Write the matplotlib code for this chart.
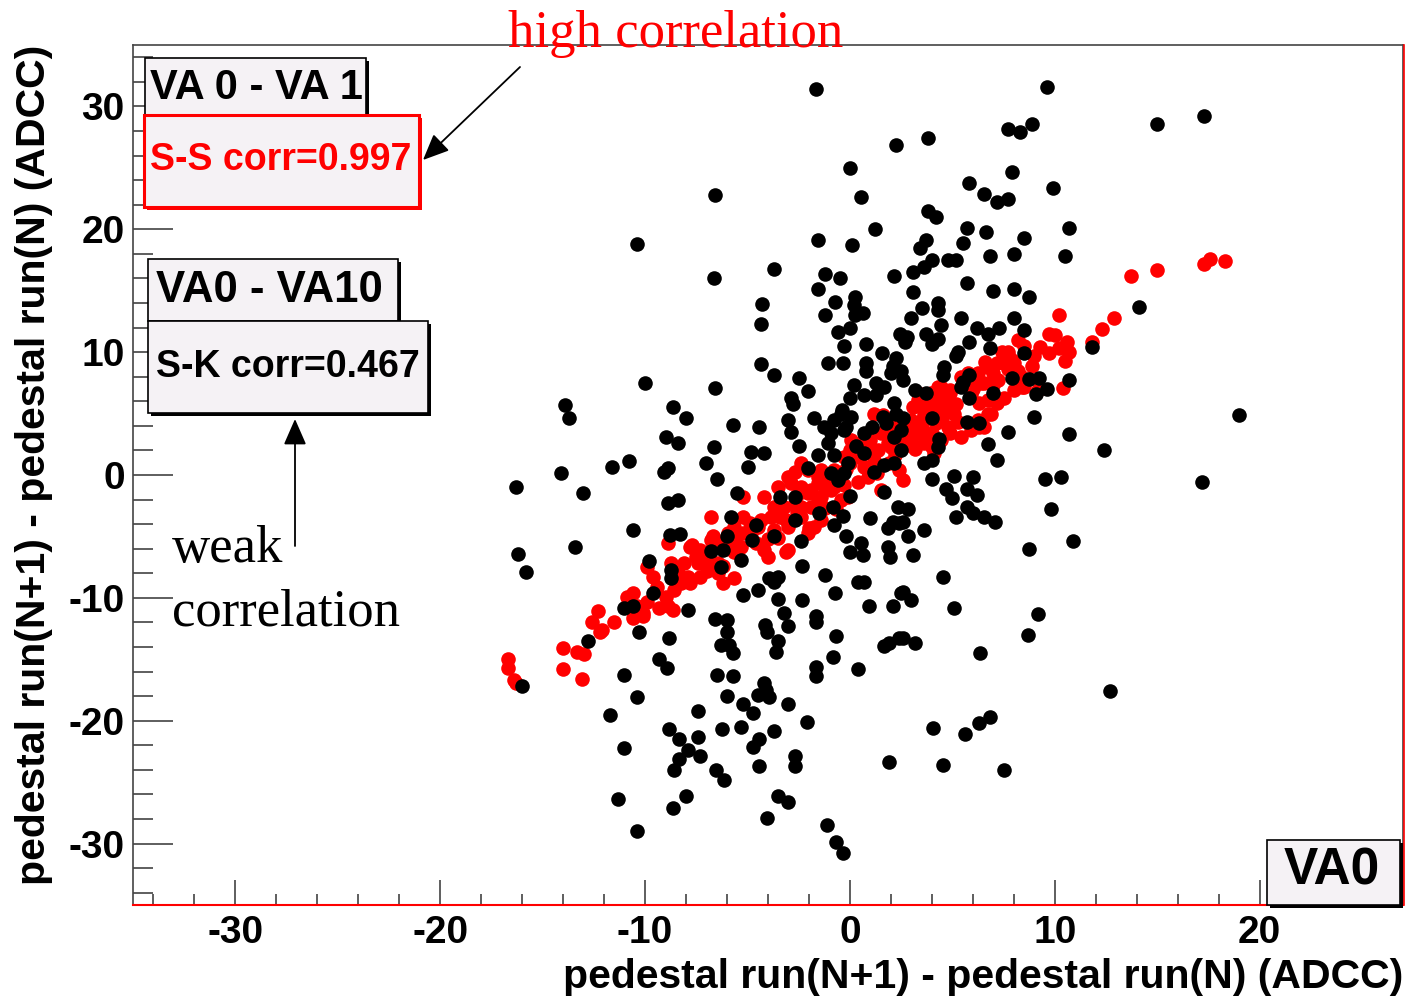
import numpy as np
import matplotlib
matplotlib.use("Agg")
import matplotlib.pyplot as plt
from matplotlib.patches import Rectangle
from matplotlib.lines import Line2D
from matplotlib.ticker import MultipleLocator

plt.rcParams['font.family'] = ['Liberation Sans', 'DejaVu Sans']
plt.rcParams['font.weight'] = 'bold'
plt.rcParams['axes.unicode_minus'] = False

# pedestal differences, VA0 vs VA10 (weak correlation)
va0_va10 = [
    (-1.66, 31.4), (3.8, 27.4), (2.25, 26.9), (0.0, 25.0), (0.54, 22.6), (3.8, 21.5), (4.2, 21.0),
    (-6.6, 22.8), (-10.4, 18.8), (-1.56, 19.1), (0.1, 18.7), (1.2, 20.0), (3.7, 19.1), (3.4, 18.5),
    (4.8, 17.5), (4.0, 17.5), (3.6, 16.9), (3.1, 16.5), (2.15, 16.2), (-3.7, 16.8), (-1.2, 16.4),
    (-0.5, 16.0), (-1.56, 15.1), (-6.65, 16.0), (-4.3, 13.9), (-4.35, 12.3), (-0.73, 14.1),
    (0.24, 14.5), (0.2, 13.8), (0.64, 13.2), (0.24, 13.0), (-1.2, 13.0), (3.1, 14.9), (3.5, 13.6),
    (4.3, 14.0), (4.3, 13.4), (3.0, 12.8), (4.45, 12.2), (2.45, 11.5), (2.8, 11.2), (2.7, 10.8),
    (3.7, 11.5), (4.3, 11.1), (4.0, 10.7), (-0.6, 11.6), (0.0, 12.0), (-0.3, 10.5), (0.8, 10.7),
    (1.55, 9.9), (-4.35, 9.0), (-3.7, 8.1), (-2.5, 7.9), (-1.08, 9.1), (-0.34, 9.1), (0.8, 9.1),
    (0.8, 8.5), (2.25, 9.5), (2.1, 8.9), (2.5, 8.5), (2.0, 8.3), (2.6, 7.7), (4.6, 8.8), (4.55, 8.1),
    (-2.05, 6.8), (-2.9, 6.3), (-2.8, 5.8), (0.2, 7.3), (0.7, 6.5), (1.27, 7.5), (1.27, 6.5),
    (1.66, 7.2), (0.0, 6.3), (-0.4, 5.3), (0.05, 4.7), (-0.2, 3.9), (2.15, 5.9), (3.2, 6.9),
    (3.7, 6.7), (-10.0, 7.5), (-6.6, 7.1), (-13.9, 5.7), (-13.7, 4.6), (-8.65, 5.5), (-8.0, 4.6),
    (-5.7, 4.1), (-4.45, 3.9), (-3.0, 4.5), (-2.9, 3.5), (-1.76, 4.6), (-1.27, 3.9), (-0.93, 3.4),
    (-1.08, 2.6), (-9.0, 3.1), (-8.4, 2.6), (-6.65, 2.3), (-2.5, 2.4),
    (9.6, 31.6), (15.0, 28.6), (17.3, 29.2), (7.7, 28.2), (8.3, 27.9), (8.9, 28.6), (7.9, 24.7),
    (5.8, 23.8), (9.9, 23.4), (6.55, 22.9), (7.2, 22.2), (7.7, 22.5), (5.7, 20.1), (6.65, 19.8),
    (10.7, 20.1), (8.5, 19.3), (5.5, 18.9), (6.85, 17.8), (8.0, 18.0), (10.5, 17.8), (5.2, 17.5),
    (5.7, 15.6), (7.0, 15.0), (8.0, 15.1), (8.75, 14.5), (14.1, 13.7), (5.4, 12.8), (6.2, 12.0),
    (6.75, 11.5), (7.3, 12.0), (8.0, 12.8), (8.5, 11.8), (5.8, 10.8), (5.3, 10.0), (5.2, 9.7),
    (6.85, 10.3), (8.5, 9.9), (11.8, 10.4), (7.9, 7.9), (8.75, 7.8), (9.25, 7.9), (10.7, 7.7),
    (5.4, 7.2), (5.8, 6.3), (7.0, 6.7), (9.1, 6.6), (9.6, 7.0), (19.0, 4.9), (5.7, 4.3), (6.3, 4.2),
    (9.0, 4.7), (7.7, 3.5), (10.7, 3.3), (6.75, 2.5), (4.35, 2.9), (4.3, 2.3), (12.4, 2.0),
    (7.2, 1.2), (3.6, 1.0), (4.0, -0.3), (5.1, -0.1), (6.0, -0.2), (4.7, -1.1), (5.0, -1.9),
    (5.7, -1.1), (6.2, -1.6), (9.5, -0.3), (10.3, -0.2), (17.2, -0.6), (9.8, -2.8), (5.7, -2.6),
    (6.0, -3.1), (6.55, -3.4), (7.1, -3.8), (5.2, -3.4), (2.85, -2.8), (2.6, -3.8), (3.6, -4.5),
    (2.85, -5.0), (3.1, -6.5), (10.9, -5.4), (8.75, -6.0), (4.55, -8.3), (3.0, -10.2), (2.6, -9.5),
    (5.1, -10.8), (9.2, -11.3), (8.7, -13.0), (3.2, -13.7), (2.6, -13.3), (6.35, -14.5),
    (12.7, -17.6), (4.06, -20.6), (5.6, -21.1), (6.3, -20.2), (6.85, -19.7), (4.55, -23.6),
    (7.5, -24.0),
    (-4.85, 1.9), (-4.2, 1.8), (-11.6, 0.65), (-10.8, 1.1), (-14.1, 0.15), (-16.3, -1.0),
    (-13.05, -1.5), (-9.1, 0.25), (-8.9, 0.6), (-7.04, 1.0), (-5.0, 0.65), (-6.5, -0.3),
    (-5.5, -1.5), (-8.9, -2.3), (-8.4, -2.0), (-10.6, -4.5), (-13.4, -5.85), (-16.2, -6.4),
    (-15.8, -7.9), (-8.8, -4.9), (-8.3, -4.8), (-9.8, -7.0), (-8.75, -7.7), (-8.75, -8.4),
    (-9.6, -9.6), (-11.05, -10.8), (-10.6, -10.7), (-12.8, -13.5), (-10.3, -12.8), (-7.9, -11.0),
    (-8.85, -13.3), (-16.0, -17.2), (-11.05, -16.3), (-10.4, -18.1), (-9.3, -15.0), (-8.95, -15.7),
    (-11.7, -19.5), (-11.05, -22.2), (-11.3, -26.4), (-10.4, -29.0), (-8.65, -27.1), (-8.0, -26.1),
    (-8.85, -20.7), (-8.35, -21.5), (-7.4, -21.3), (-7.9, -22.4), (-8.35, -23.1), (-8.6, -24.0),
    (-7.3, -22.9), (-7.4, -19.2), (-6.6, -11.7), (-6.0, -11.8), (-6.0, -12.8), (-6.3, -13.8),
    (-5.9, -13.8), (-5.7, -14.5), (-6.5, -16.3), (-5.7, -16.4), (-6.0, -18.0), (-6.25, -20.7),
    (-6.55, -24.0), (-6.15, -24.8), (-5.2, -18.6), (-4.75, -19.4), (-4.2, -16.9), (-4.1, -17.5),
    (-4.5, -17.9), (-3.95, -18.1), (-5.3, -20.5), (-4.45, -21.5), (-4.75, -22.1), (-3.7, -20.8),
    (-4.45, -23.7), (-3.5, -26.1), (-3.0, -26.6), (-4.05, -27.9), (-3.0, -18.6), (-2.1, -20.1),
    (-2.7, -22.9), (-2.7, -23.7), (-1.1, -28.5), (-0.7, -29.9), (-0.34, -30.8), (-4.15, -12.2),
    (-4.05, -12.8), (-3.5, -13.5), (-3.6, -14.4), (-3.2, -11.2), (-3.0, -12.3), (-1.66, -11.5),
    (-1.66, -12.0), (-0.7, -13.1), (-0.83, -14.8), (-1.66, -15.6), (-1.66, -16.4), (0.4, -15.8),
    (-5.2, -9.8), (-4.5, -9.4), (-3.5, -10.1), (-2.35, -10.2), (-0.73, -9.6), (-1.2, -8.1),
    (-3.95, -8.4), (-3.5, -8.3), (-3.7, -8.7), (-2.35, -7.4), (-2.4, -5.4), (-5.3, -6.9),
    (-4.8, -5.3), (-3.7, -5.0), (-6.3, -7.5), (-6.0, -5.0), (-6.2, -6.1), (-6.8, -6.2),
    (-5.8, -3.4), (-4.6, -4.1), (-3.4, -1.8), (-2.7, -1.8), (-2.7, -3.7), (-1.5, -3.1),
    (-0.83, -2.6), (-0.34, -3.3), (0.0, -1.7), (-0.8, -4.1), (-0.2, -5.0), (0.0, -6.3),
    (0.64, -6.5), (0.54, -5.5), (0.4, -8.7), (0.7, -8.7), (0.93, -10.7), (2.1, -10.7),
    (2.5, -9.6), (1.66, -13.9), (1.9, -13.7), (2.4, -13.3), (1.9, -23.4), (1.86, -5.85),
    (1.96, -6.7), (2.35, -2.6), (1.66, -1.4), (1.86, -4.3), (2.1, -3.8), (2.4, -3.9), (1.0, -3.5),
    (-2.05, 0.6), (-1.56, 1.6), (-0.93, 0.15), (-0.6, -0.4), (-0.8, 1.6), (-0.1, 1.0),
    (1.1, 3.9), (1.6, 4.7), (1.76, 4.2), (0.7, 3.4), (0.3, 2.4), (2.6, 4.6), (2.5, 3.7),
    (2.15, 3.1), (5.5, 7.6), (5.8, 8.1), (-0.8, 4.5), (-0.45, 5.0), (-0.3, 3.7),
    (2.25, 5.0), (4.0, 4.6), (4.0, 1.2), (0.7, 1.8), (-0.3, 0.15), (1.66, 0.8), (2.15, 1.0),
    (2.5, 2.0), (1.17, 0.25),
]

# pedestal differences, VA0 vs VA1 (high correlation)
va0_va1 = [
    (13.7, 16.2), (15.0, 16.7), (17.3, 17.2), (17.6, 17.6), (18.3, 17.4), (10.2, 13.0),
    (12.9, 12.8), (12.3, 11.9), (11.8, 10.8), (8.2, 11.0), (9.7, 11.5), (10.0, 11.4), (9.3, 10.4),
    (9.7, 9.9), (10.2, 10.3), (10.6, 10.8), (10.7, 10.0), (10.5, 9.3), (10.4, 7.1), (7.4, 10.0),
    (7.7, 10.0), (6.75, 8.8), (7.2, 9.1), (7.9, 9.35), (8.2, 8.5), (8.4, 7.2), (8.0, 6.9),
    (6.06, 8.0), (5.6, 7.5), (6.4, 7.5), (6.75, 6.1), (6.9, 5.0), (6.55, 3.9), (6.25, 4.5),
    (7.2, 5.9), (4.9, 6.9), (4.6, 6.1), (4.1, 5.5), (3.6, 5.0), (3.3, 5.9), (3.5, 4.5), (3.1, 3.4),
    (3.0, 2.6), (3.8, 3.1), (5.1, 5.0), (4.8, 3.9), (4.45, 2.85), (9.2, 6.9), (6.3, 5.9),
    (7.7, 9.75), (8.0, 9.1), (7.5, 9.1), (7.0, 8.3), (6.26, 8.3), (5.77, 8.3), (5.4, 8.0),
    (6.55, 7.5), (7.24, 7.7), (7.9, 8.3), (8.4, 8.0), (8.5, 7.2), (7.5, 6.3), (6.75, 5.0),
    (6.3, 3.9), (5.9, 3.7), (5.4, 3.1), (4.9, 3.4), (4.45, 7.2), (3.96, 6.7), (3.8, 5.5),
    (4.3, 5.0), (4.8, 5.5), (4.9, 6.7), (3.6, 4.5), (4.0, 3.4), (3.3, 3.4), (3.0, 4.5), (2.0, 2.3),
    (1.5, 3.4), (1.0, 2.85), (1.37, 2.0), (0.54, 2.3), (0.05, 2.85), (3.1, 5.5), (3.3, 6.1),
    (2.5, 2.85),
    (-0.3, 1.5), (-0.8, 0.4), (-1.56, -0.65), (-2.05, -1.5), (-2.7, -2.3), (-2.9, -0.65),
    (-2.4, -1.0), (-0.1, -1.8), (-0.44, -2.0), (-0.93, -1.2), (-1.42, -1.8), (-1.9, -2.6),
    (-1.42, -3.7), (-1.76, -4.2), (-2.4, -3.4), (-2.05, -4.7), (-3.0, -4.2), (-3.4, -3.4),
    (-3.86, -3.4), (-4.2, -1.8), (-3.7, -4.5), (-4.5, -4.2), (-4.84, -4.7), (-5.2, -3.4),
    (-5.67, -4.2), (-5.97, -4.7), (-6.8, -3.4), (-6.8, -5.3), (-6.45, -5.5), (-7.3, -6.1),
    (-6.8, -6.1), (-7.8, -5.85), (-7.4, -7.15), (-8.1, -7.15), (-7.9, -8.3), (-8.4, -8.0),
    (-8.75, -7.15), (-8.26, -8.8), (-7.8, -8.8), (-7.3, -8.3), (-6.45, -8.0), (-6.2, -8.8),
    (-5.67, -8.4), (-6.9, -7.15), (-6.45, -7.15), (-5.67, -6.3), (-5.3, -5.85), (-4.2, -6.1),
    (-4.0, -6.7), (-3.0, -6.1), (-6.9, -6.7), (-8.9, -5.5), (-9.9, -7.5), (-9.4, -9.1),
    (-9.0, -9.9), (-8.9, -10.7), (-9.3, -10.8), (-9.9, -10.3), (-10.1, -11.2), (-10.6, -9.6),
    (-10.9, -9.9), (-10.4, -10.7), (-10.6, -11.6), (-11.5, -12.0), (-12.1, -12.6), (-5.2, -1.8),
    (-3.7, -2.6), (-4.35, -3.7), (-5.2, -4.7), (-2.4, 1.0), (-3.0, -0.15), (-2.05, 0.4),
    (-1.56, -0.15),
    (-16.7, -15.0), (-16.7, -15.7), (-16.4, -16.7), (-16.3, -16.9), (-14.0, -14.1),
    (-14.0, -15.8), (-13.3, -14.4), (-13.0, -14.6), (-13.1, -16.6), (-12.3, -11.1),
    (-12.6, -12.0), (-12.2, -12.8), (-10.1, -11.5), (-8.65, -11.0),
    (-7.7, -5.7), (-6.7, -5.0), (-3.1, -6.3), (-2.0, -4.3), (-2.7, 0.25), (-1.42, 0.4), (0.0, 2.0),
    (0.54, 2.6), (1.6, 4.9), (2.6, 2.3), (4.0, 2.3), (1.86, 2.6), (2.4, 0.4), (2.6, -0.4),
    (0.9, -0.15), (1.5, -1.2), (1.17, 1.2), (0.0, 1.0), (0.7, 0.65), (-0.8, -1.0), (-1.9, -1.2),
    (-2.4, -2.6), (-3.2, -2.6), (-1.56, -2.0), (3.2, 3.9), (3.6, 2.6), (4.1, 1.8), (4.3, 5.9),
    (4.8, 5.3), (1.17, 5.0), (1.86, 3.9), (3.3, 6.7), (4.3, 7.2), (0.9, 2.6), (2.6, 3.4),
    (3.5, 3.9), (4.2, 4.2), (4.5, 4.7), (3.9, 5.9), (4.6, 6.6), (5.2, 5.8), (5.3, 4.3),
    (2.8, 3.8), (3.2, 2.1), (2.2, 1.6), (1.9, 1.0), (1.3, 0.2), (0.4, -0.6), (-0.3, -0.8),
    (-1.2, -1.0), (-0.7, -2.8), (-1.2, -2.7), (-2.6, -3.0), (-3.1, -3.7), (-3.5, -5.1),
    (-4.0, -5.2), (-4.6, -5.5), (-4.9, -3.9), (-5.6, -5.3), (-6.1, -6.0), (-6.2, -7.4),
    (-7.0, -7.8), (-7.5, -6.7), (-8.6, -9.4), (-9.6, -8.3), (5.9, 6.6), (6.0, 7.0), (7.0, 7.3),
    (7.7, 8.6), (6.6, 9.2), (8.9, 8.9), (9.0, 9.7), (8.5, 10.5), (2.0, 4.3), (0.5, 1.5),
    (-0.2, 0.5), (1.0, 1.9), (-1.0, -0.4), (-2.6, -1.6), (-3.5, -1.0),
]

corr_high = "S-S corr=0.997"
corr_weak = "S-K corr=0.467"
axis_title = "pedestal run(N+1) - pedestal run(N) (ADCC)"

W, H = 1405, 998
fig = plt.figure(figsize=(W / 100, H / 100), dpi=100)
ax = fig.add_axes([133 / W, 93 / H, 1270 / W, 860 / H])

red = np.array(va0_va1)
blk = np.array(va0_va10)
ax.plot(red[:, 0], red[:, 1], 'o', color='red', ms=10.5, mew=0, zorder=2)
ax.plot(blk[:, 0], blk[:, 1], 'o', color='black', ms=10.5, mew=0, zorder=3)

ax.set_xlim(-35, 27)
ax.set_ylim(-35, 35)
ax.xaxis.set_major_locator(MultipleLocator(10))
ax.xaxis.set_minor_locator(MultipleLocator(2))
ax.yaxis.set_major_locator(MultipleLocator(10))
ax.yaxis.set_minor_locator(MultipleLocator(2))
ax.tick_params(axis='y', which='major', direction='in', length=29, width=1.1,
               labelsize=28, pad=6, color='#333333')
ax.tick_params(axis='y', which='minor', direction='in', length=14.5, width=1.1, color='#333333')
ax.tick_params(axis='x', which='major', direction='in', length=18, width=1.1,
               labelsize=28, pad=7, color='#333333')
ax.tick_params(axis='x', which='minor', direction='in', length=8, width=1.1, color='#333333')
for lbl in ax.get_xticklabels() + ax.get_yticklabels():
    lbl.set_fontweight('bold')

for side in ['left', 'top', 'right']:
    ax.spines[side].set_color('#444444')
    ax.spines[side].set_linewidth(1.2)
ax.spines['bottom'].set_color('red')
ax.spines['bottom'].set_linewidth(1.5)
fig.add_artist(Line2D([1404.3 / W, 1404.3 / W], [93 / H, 953 / H], color='red', lw=1.2))

fig.text(1403 / W, 1 - 977 / H, axis_title, ha='right', va='center', fontsize=29.5, fontweight='bold')
fig.text(34 / W, 1 - 45 / H, axis_title, ha='center', va='top', rotation=90,
         fontsize=29.5, fontweight='bold')


def pave(x0, y0, x1, y1, z, edge='black', lw=1.2):
    # box given in image pixels (top-left origin), with an offset shadow
    w, h = (x1 - x0) / W, (y1 - y0) / H
    fig.add_artist(Rectangle((x0 / W + 3 / W, 1 - y1 / H - 3 / H), w, h, transform=fig.transFigure,
                             facecolor=edge, edgecolor='none', zorder=z))
    fig.add_artist(Rectangle((x0 / W, 1 - y1 / H), w, h, transform=fig.transFigure,
                             facecolor='#f5f2f5', edgecolor=edge, lw=lw, zorder=z + 0.1))


def label(x, y, s, size, color='black', z=10):
    fig.text(x / W, 1 - y / H, s, ha='left', va='center', fontsize=size,
             fontweight='bold', color=color, zorder=z)


pave(145, 58, 366, 115, 5)
label(150, 88, "VA 0 - VA 1", 30)
pave(144, 115, 419, 207, 6, edge='red', lw=2.2)
label(150, 160, corr_high, 27, color='red')
pave(148, 259, 398, 321, 7)
label(156, 290, "VA0 - VA10", 31.5)
pave(148, 321, 428, 413, 8)
label(156, 367, corr_weak, 27)
pave(1267, 840, 1400, 905, 8)
label(1284, 871, "VA0", 37)

# hand-drawn style annotations
fig.text(508 / W, 1 - 47 / H, "high correlation", color='red', fontsize=38,
         family='Liberation Serif', fontweight='normal', va='baseline', zorder=12)
fig.text(172 / W, 1 - 562 / H, "weak", color='black', fontsize=38,
         family='Liberation Serif', fontweight='normal', va='baseline', zorder=12)
fig.text(172 / W, 1 - 625 / H, "correlation", color='black', fontsize=38,
         family='Liberation Serif', fontweight='normal', va='baseline', zorder=12)

arrow = dict(arrowstyle='-|>,head_length=0.8,head_width=0.35', color='black', lw=1.3,
             mutation_scale=20, shrinkA=0, shrinkB=0)
ax.annotate('', xy=(423, H - 160), xytext=(520, H - 67), xycoords='figure pixels',
            textcoords='figure pixels', arrowprops=arrow, zorder=12)
ax.annotate('', xy=(295, H - 419), xytext=(295, H - 546), xycoords='figure pixels',
            textcoords='figure pixels', arrowprops=arrow, zorder=12)

fig.savefig("out.png", dpi=100)
